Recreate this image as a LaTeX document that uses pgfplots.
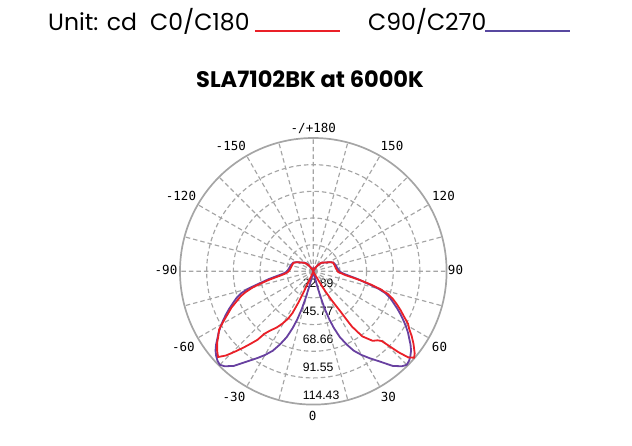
\documentclass[border=0pt]{standalone}
\usepackage{fontspec}
\setmainfont{Liberation Sans}
\newfontfamily\hdr{Poppins}
\newfontfamily\mono{DejaVu Sans Mono}
\usepackage{pgfplots}
\usepackage{pgfplotstable}
\usepgfplotslibrary{polar}
\pgfplotsset{compat=1.18}
\definecolor{cred}{RGB}{234,32,40}
\definecolor{cpur}{RGB}{104,64,160}
\definecolor{lpur}{RGB}{88,72,160}
\definecolor{grd}{RGB}{165,165,165}

% C0/C180 (theta>0: C0, theta<0: C180), theta measured from nadir
\pgfplotstableread{
t r
-180 0
-160 1
-150 2.5
-145 5
-140 8
-135 10
-130 11.5
-126 12.8
-122 14.5
-118 16.5
-113 18.5
-105 19
-95 20
-89 21.5
-85.5 24
-83 27.5
-81 32.5
-79 39
-77 46
-75 54
-73 60.5
-71 66
-68.5 71
-66 77
-63.5 82
-61 88
-58.3 95
-55.5 99
-53.3 103
-50.5 107
-48 110
-46 104
-44.2 96
-42.5 89
-40.8 82
-39.2 76
-38 68
-36.5 64
-35.3 61.5
-33 57.5
-30.5 52
-28 46
-26.5 40
-25.5 30
-25 20
-24 10
-22 4
-18 1.5
-10 0.3
0 0
10 0.3
20 1
27 3
29.5 10
31 20
32.5 30
34 41
34.5 50
35 58
37 70
40.5 78.5
43 81
44.5 84
45.5 92
46.5 101
47.8 110
49.4 114
51 112
54.2 106
56.7 101
59 96
61 93
63.5 87
66 82
68.5 77
71 72
73 67
75 60
77 51
79 42
81 34
83 28
86 24
88 21.5
97.6 19.5
105 19
114 18.6
118 16.5
122 14.5
126 12.8
130 11.6
135 10.5
140 8.5
145 5.5
150 3
160 1
170 0.3
180 0
}\redC

% C90/C270
\pgfplotstableread{
t r
-180 0
-170 0.3
-160 1
-150 2.5
-145 5
-140 8.7
-135 10.5
-130 11.6
-126 12.8
-122 14.5
-118 16.5
-114 18.6
-110 19.3
-105 20
-100 20.5
-92 22
-89 23
-86 25.5
-84 28.5
-82 33
-80 39
-78 45
-76.5 51
-75 58
-73 65
-71 69.5
-68.5 74
-66 79
-63.5 84
-61 89
-59 93
-57 97
-55 100.5
-53 104.5
-51 108
-49 110.5
-47 112.5
-45 113.5
-43 111.5
-40 106
-36.5 96.5
-33 89
-30 83
-27 76.5
-24.5 69
-22 61
-20 52
-18.5 44
-17 34
-16 24
-15 14
-14 6
-12 2
-8 0.5
0 0
8 0.5
12 2
14 6
15 14
16 24
17 34
18.5 44
20 52
22 61
24.5 69
27 76.5
30 83
33 89
36.5 96.5
40 106
43 111.5
45 113.5
47 112.5
49 110.5
51 108
53 104.5
55 100.5
57 97
59 93
61 89
63.5 84
66 79
68.5 74
71 69.5
73 65
75 58
76.5 51
78 45
80 39
82 33
84 28.5
86 25.5
89 23
92 22
100 20.5
105 20
110 19.3
114 18.6
118 16.5
122 14.5
126 12.8
130 11.6
135 10.5
140 8.7
145 5
150 2.5
160 1
170 0.3
180 0
}\purC

\begin{document}
\begin{tikzpicture}[x=1pt,y=1pt]
\useasboundingbox (-313.3,-174.7) rectangle (318.7,271.3);
% header
\node[anchor=base west,inner sep=0] at (-265.3,240.3) {\hdr\fontsize{23.5}{26}\selectfont Unit: cd};
\node[anchor=base west,inner sep=0] at (-163.3,240.3) {\hdr\fontsize{23.5}{26}\selectfont C0/C180};
\draw[cred,line width=2.5pt] (-58.3,240.3) -- (26.7,240.3);
\node[anchor=base west,inner sep=0] at (54.7,240.3) {\hdr\fontsize{23.5}{26}\selectfont C90/C270};
\draw[lpur,line width=2.5pt] (171.7,240.3) -- (256.7,240.3);
% title
\node[anchor=base,inner sep=0] at (-3.3,183.3) {\hdr\bfseries\fontsize{22.5}{26}\selectfont SLA7102BK at 6000K};
% ring labels
\begin{scope}[every node/.style={anchor=base west,inner sep=0,font=\fontsize{12.2}{14}\selectfont}]
\node at (-10.6,-16.5) {22.89};
\node at (-10.6,-44.7) {45.77};
\node at (-10.6,-72.3) {68.66};
\node at (-10.6,-100.3) {91.55};
\node at (-10.6,-128.7) {114.43};
\end{scope}
% angle labels
\begin{scope}[every node/.style={anchor=base,inner sep=0,font=\mono\fontsize{12.5}{14}\selectfont}]
\node at (0,138.6) {-/+180};
\node at (-82.5,120.9) {-150};
\node at (78.7,120.9) {150};
\node at (-132.3,70.9) {-120};
\node at (130.2,70.9) {120};
\node at (-147.3,-3.1) {-90};
\node at (142.2,-3.1) {90};
\node at (-130,-80.4) {-60};
\node at (126.2,-80.4) {60};
\node at (-79.3,-129.8) {-30};
\node at (75,-129.8) {30};
\node at (-0.6,-149.1) {0};
\end{scope}
\begin{polaraxis}[
  at={(0,0)}, anchor=center,
  scale only axis, width=266.6pt, height=266.6pt,
  ymin=0, ymax=114.43,
  xmin=0, xmax=360,
  xtick={0,30,60,90,120,150,180,210,240,300,330},
  minor xtick={15,45,75,105,135,165,195,225,255,285,315,345},
  ytick={22.886,45.772,68.658,91.544},
  xticklabels={}, yticklabels={},
  major tick style={draw=none}, minor tick style={draw=none},
  grid=both,
  major grid style={grd, line width=1.15pt, dash pattern=on 4.5pt off 3pt},
  minor grid style={grd, line width=1.15pt, dash pattern=on 4.5pt off 3pt},
  separate axis lines,
  x axis line style={grd, line width=1.7pt},
  y axis line style={draw=none},
  clip=false,
]
\addplot[cpur, line width=1.8pt, no marks] table[x expr=\thisrow{t}-90, y=r] {\purC};
\addplot[cred, line width=1.8pt, no marks] table[x expr=\thisrow{t}-90, y=r] {\redC};
\end{polaraxis}
\end{tikzpicture}
\end{document}
